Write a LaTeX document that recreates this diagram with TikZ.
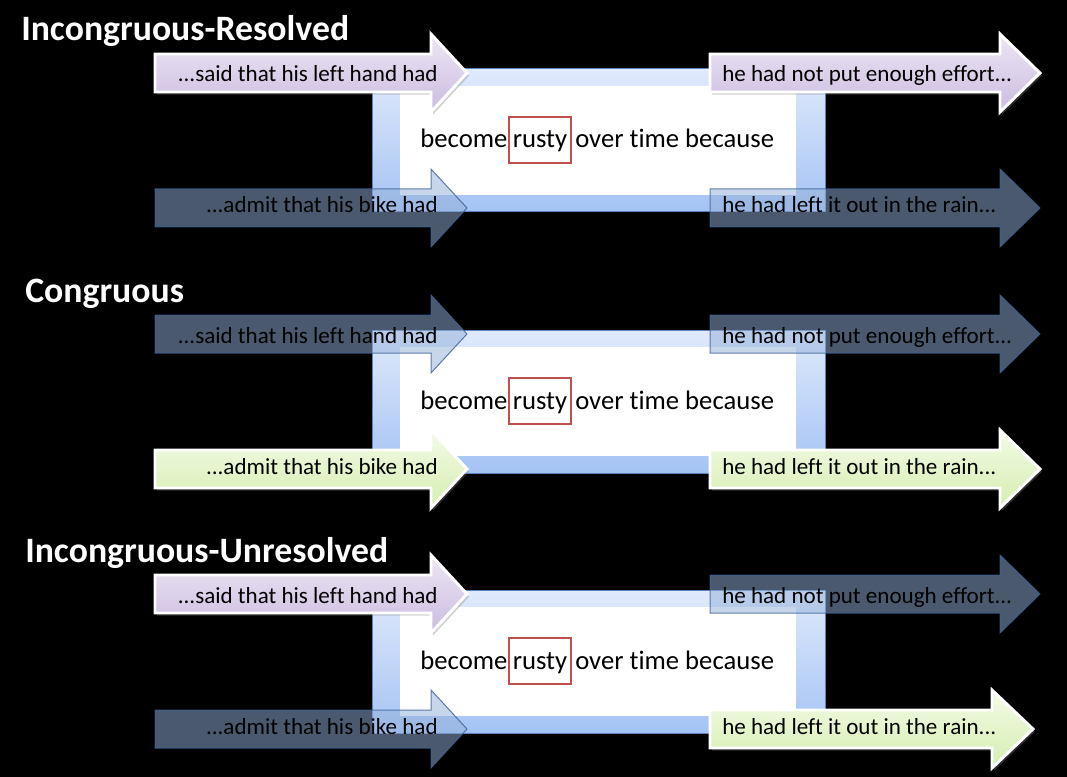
\documentclass[tikz,border=0pt]{standalone}
\usepackage{fontspec}
\setmainfont{Carlito}[Ligatures=NoCommon]
\usetikzlibrary{positioning,shadows}

\definecolor{framebd}{HTML}{5B82BC}
\definecolor{frametop}{HTML}{E0EAFC}
\definecolor{framebot}{HTML}{A4C3F4}
\definecolor{lavtop}{HTML}{EDE6F4}
\definecolor{lavbot}{HTML}{CBBCE0}
\definecolor{limetop}{HTML}{F3FBE7}
\definecolor{limebot}{HTML}{D5EEB0}
\definecolor{slatefill}{HTML}{93B0D8}
\definecolor{slateedge}{HTML}{3E6296}
\definecolor{rustred}{HTML}{C0504D}

% block arrow outline: left x, head base x, tip x, centre y
\newcommand{\arrowshape}[4]{(#1,#4-19) -- (#2,#4-19) -- (#2,#4-39) -- (#3,#4)
   -- (#2,#4+39) -- (#2,#4+19) -- (#1,#4+19) -- cycle}

\tikzset{
   hipurple/.style={draw=white, line width=2.2pt, top color=lavtop, bottom color=lavbot,
      drop shadow={opacity=0.35, shadow xshift=1.5pt, shadow yshift=-2pt}},
   higreen/.style={draw=white, line width=2.2pt, top color=limetop, bottom color=limebot,
      drop shadow={opacity=0.35, shadow xshift=1.5pt, shadow yshift=-2pt}},
   dimarrow/.style={draw=slateedge, line width=0.75pt, fill=slatefill,
      fill opacity=0.51, draw opacity=0.8},
   framefill/.style={top color=frametop, bottom color=framebot},
   frameedge/.style={draw=framebd, line width=0.75pt},
   armlabel/.style={font=\fontsize{17.3}{20}\selectfont, text=black, inner sep=0pt},
   sentence/.style={font=\fontsize{20}{24}\selectfont, text=black, inner sep=0pt},
   rustybox/.style={sentence, draw=rustred, line width=1.5pt, minimum width=47pt,
      minimum height=34pt, text height=17pt, text depth=5pt},
   paneltitle/.style={font=\fontsize{26.8}{30}\selectfont\bfseries, text=white,
      inner sep=0pt, anchor=base west}
}

\begin{document}
\begin{tikzpicture}[x=0.75pt, y=-0.75pt]
   \fill[black] (0,0) rectangle (1067,777);
   \useasboundingbox (0,0) rectangle (1067,777);

   % Incongruous-Resolved
   \node[paneltitle] (title1) at (21,41) {Incongruous-Resolved};
   \shade[framefill] (372,69) rectangle (825,212);
   \fill[white] (400,86) rectangle (796,195);
   \draw[frameedge] (372,69) rectangle (825,212);
   \node[rustybox] (rusty1) at (540,140) {rusty};
   \node[sentence, base left=0pt of rusty1]  (become1) {become};
   \node[sentence, base right=2pt of rusty1] (over1)   {over time because};

   \draw[hipurple] \arrowshape{155}{431}{467}{73};
   \node[armlabel, anchor=base east] (said1) at (438,82) {...said that his left hand had};
   \draw[hipurple] \arrowshape{710}{1000}{1040}{73};
   \node[armlabel, anchor=base west] (effort1) at (722,82) {he had not put enough effort...};
   \draw[dimarrow] \arrowshape{155}{431}{467}{208};
   \node[armlabel, anchor=base east] (bike1) at (438,213) {...admit that his bike had};
   \draw[dimarrow] \arrowshape{710}{1000}{1040}{208};
   \node[armlabel, anchor=base west] (rain1) at (722,213) {he had left it out in the rain...};

   % Congruous
   \node[paneltitle] (title2) at (25,302) {Congruous};
   \shade[framefill] (372,330) rectangle (825,473);
   \fill[white] (400,347) rectangle (796,456);
   \draw[frameedge] (372,330) rectangle (825,473);
   \node[rustybox] (rusty2) at (540,401) {rusty};
   \node[sentence, base left=0pt of rusty2]  (become2) {become};
   \node[sentence, base right=2pt of rusty2] (over2)   {over time because};

   \draw[dimarrow] \arrowshape{155}{431}{467}{334};
   \node[armlabel, anchor=base east] (said2) at (438,343) {...said that his left hand had};
   \draw[dimarrow] \arrowshape{710}{1000}{1040}{334};
   \node[armlabel, anchor=base west] (effort2) at (722,343) {he had not put enough effort...};
   \draw[higreen] \arrowshape{155}{431}{467}{469};
   \node[armlabel, anchor=base east] (bike2) at (438,474) {...admit that his bike had};
   \draw[higreen] \arrowshape{710}{1000}{1040}{469};
   \node[armlabel, anchor=base west] (rain2) at (722,474) {he had left it out in the rain...};

   % Incongruous-Unresolved
   \node[paneltitle] (title3) at (25,562) {Incongruous-Unresolved};
   \shade[framefill] (372,590) rectangle (825,733);
   \fill[white] (400,607) rectangle (796,716);
   \draw[frameedge] (372,590) rectangle (825,733);
   \node[rustybox] (rusty3) at (540,661) {rusty};
   \node[sentence, base left=0pt of rusty3]  (become3) {become};
   \node[sentence, base right=2pt of rusty3] (over3)   {over time because};

   \draw[hipurple] \arrowshape{155}{431}{467}{594};
   \node[armlabel, anchor=base east] (said3) at (438,603) {...said that his left hand had};
   \draw[dimarrow] \arrowshape{710}{1000}{1040}{594};
   \node[armlabel, anchor=base west] (effort3) at (722,603) {he had not put enough effort...};
   \draw[dimarrow] \arrowshape{155}{431}{467}{729};
   \node[armlabel, anchor=base east] (bike3) at (438,734) {...admit that his bike had};
   \draw[higreen] \arrowshape{710}{992}{1033}{729};
   \node[armlabel, anchor=base west] (rain3) at (722,734) {he had left it out in the rain...};
\end{tikzpicture}
\end{document}
